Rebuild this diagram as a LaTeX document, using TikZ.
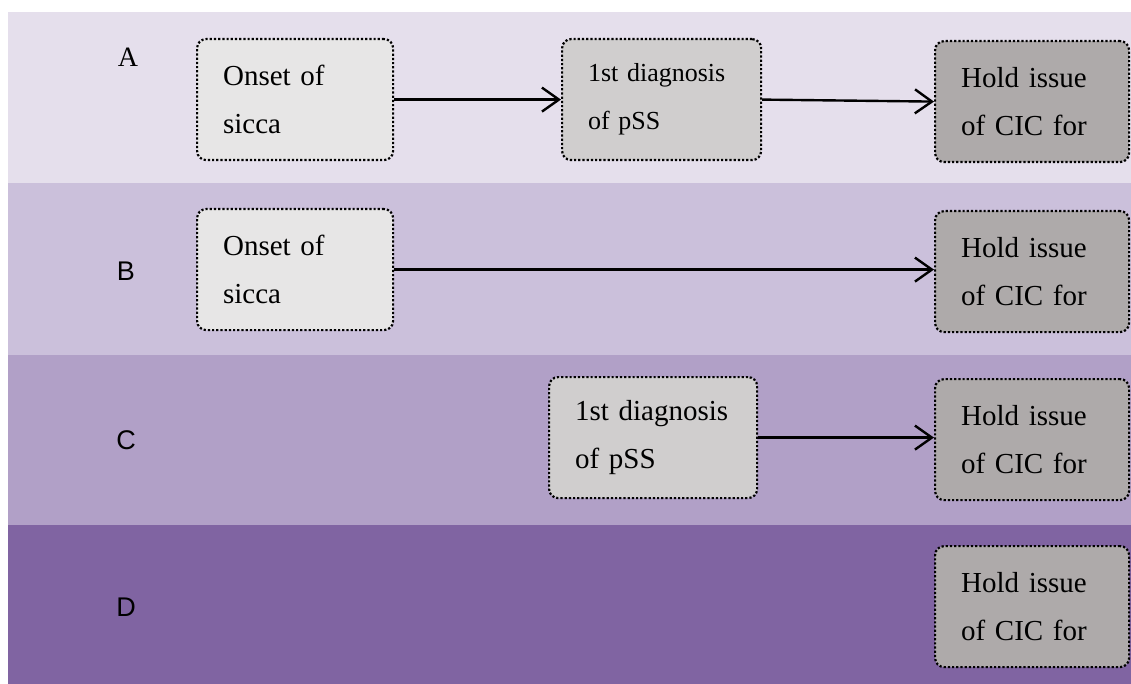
\documentclass[tikz,border=0pt]{standalone}
\usepackage{fontspec}
\setmainfont{Liberation Serif}
\setsansfont{Liberation Sans}
\usepackage{xcolor}
\usetikzlibrary{arrows.meta}

\definecolor{bandA}{HTML}{E5DFEC}
\definecolor{bandB}{HTML}{CBC0DB}
\definecolor{bandC}{HTML}{B1A0C7}
\definecolor{bandD}{HTML}{8064A2}
\definecolor{onsetfill}{HTML}{E7E6E6}
\definecolor{diagfill}{HTML}{D0CECE}
\definecolor{holdfill}{HTML}{AEAAAA}

\tikzset{
  evbox/.style={draw=black, line width=2.2pt, dash pattern=on 2.2pt off 2pt, rounded corners=9pt,
    anchor=north west, minimum height=121pt, inner xsep=26pt, inner ysep=0pt,
    align=left, font=\fontsize{29}{48}\selectfont},
  onsetbox/.style={evbox, fill=onsetfill, text width=144pt},
  diagbox/.style={evbox, fill=diagfill, text width=156pt},
  holdbox/.style={evbox, fill=holdfill, text width=142pt},
  rowlabel/.style={font=\sffamily\fontsize{27}{30}\selectfont},
  flow/.style={line width=2.4pt, -{Straight Barb[length=17pt,width=24pt,line width=2.4pt]}}
}

\begin{document}
\begin{tikzpicture}[x=1pt,y=-1pt]
\useasboundingbox (0,0) rectangle (1131,684);
% background bands
\fill[bandA] (8,12) rectangle (1131,183);
\fill[bandB] (8,183) rectangle (1131,355);
\fill[bandC] (8,355) rectangle (1131,525);
\fill[bandD] (8,525) rectangle (1131,684);
% row labels
\node[font=\fontsize{28}{30}\selectfont] (labA) at (128,57) {A};
\node[rowlabel] (labB) at (126,271) {B};
\node[rowlabel] (labC) at (126,440) {C};
\node[rowlabel] (labD) at (126,607) {D};
% row A
\node[onsetbox] (onsetA) at (196,38) {Onset of\\sicca};
\node[diagbox, text width=147pt, font=\fontsize{26}{48}\selectfont] (diagA) at (561,38) {1st diagnosis\\of pSS};
\node[holdbox] (holdA) at (934,40) {Hold issue\\of CIC for};
\draw[flow] (onsetA.east) -- (diagA.west);
\draw[flow] (diagA.east) -- (holdA.west);
% row B
\node[onsetbox] (onsetB) at (196,208) {Onset of\\sicca};
\node[holdbox] (holdB) at (934,210) {Hold issue\\of CIC for};
\draw[flow] (onsetB.east) -- (onsetB.east -| holdB.west);
% row C
\node[diagbox] (diagC) at (548,376) {1st diagnosis\\of pSS};
\node[holdbox] (holdC) at (934,378) {Hold issue\\of CIC for};
\draw[flow] (diagC.east) -- (diagC.east -| holdC.west);
% row D
\node[holdbox] (holdD) at (934,545) {Hold issue\\of CIC for};
\end{tikzpicture}
\end{document}
